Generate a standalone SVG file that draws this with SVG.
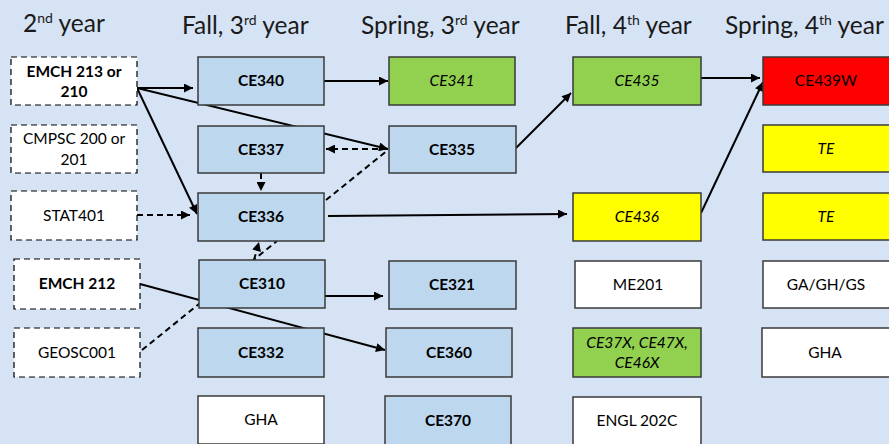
<svg xmlns="http://www.w3.org/2000/svg" width="889" height="444" viewBox="0 0 889 444">
<defs>
<style>
.hdr{font-family:Lato,"Liberation Sans",sans-serif;font-size:24.5px;fill:#1a1a1a}
.sup{font-size:14px}
.t{font-family:Lato,"Liberation Sans",sans-serif;font-size:15.5px;fill:#000;text-anchor:middle}
.b{font-weight:bold}
.i{font-style:italic}
.dash{fill:#fff;stroke:#000;stroke-width:1.2;stroke-dasharray:6,4}
.blue{fill:#BDD7EE;stroke:#3a3a3a;stroke-width:1.5}
.green{fill:#92D050;stroke:#3a3a3a;stroke-width:1.5}
.yellow{fill:#FFFF00;stroke:#3a3a3a;stroke-width:1.5}
.red{fill:#FF0000;stroke:#3a3a3a;stroke-width:1.5}
.white{fill:#fff;stroke:#3a3a3a;stroke-width:1.5}
.c{fill:none;stroke:#000;stroke-width:2}
.cd{fill:none;stroke:#000;stroke-width:2;stroke-dasharray:6,4}
</style>
<marker id="ah" viewBox="0 0 10 10" refX="10" refY="5" markerWidth="10" markerHeight="9" markerUnits="userSpaceOnUse" orient="auto">
<path d="M0,0 L10,5 L0,10 z" fill="#000"/>
</marker>
</defs>
<rect x="0" y="0" width="889" height="444" fill="#D5E3F4"/>

<g id="headers">
<text class="hdr" x="23" y="32">2<tspan class="sup" dy="-9">nd</tspan><tspan dy="9"> year</tspan></text>
<text class="hdr" x="182" y="34">Fall, 3<tspan class="sup" dy="-9">rd</tspan><tspan dy="9"> year</tspan></text>
<text class="hdr" x="361" y="34">Spring, 3<tspan class="sup" dy="-9">rd</tspan><tspan dy="9"> year</tspan></text>
<text class="hdr" x="565" y="34">Fall, 4<tspan class="sup" dy="-9">th</tspan><tspan dy="9"> year</tspan></text>
<text class="hdr" x="725" y="34">Spring, 4<tspan class="sup" dy="-9">th</tspan><tspan dy="9"> year</tspan></text>
</g>

<g id="connectors">
<line class="c" x1="137" y1="88" x2="193" y2="88" marker-end="url(#ah)"/>
<line class="c" x1="137" y1="88" x2="388" y2="149" marker-end="url(#ah)"/>
<line class="c" x1="137" y1="88" x2="197" y2="214" marker-end="url(#ah)"/>
<line class="c" x1="324" y1="81" x2="388" y2="81" marker-end="url(#ah)"/>
<line class="cd" x1="388" y1="149" x2="326" y2="149" marker-end="url(#ah)"/>
<line class="cd" x1="261" y1="173" x2="261" y2="191" marker-end="url(#ah)"/>
<line class="cd" x1="326" y1="200" x2="388" y2="150"/>
<line class="cd" x1="137" y1="215" x2="190" y2="215" marker-end="url(#ah)"/>
<line class="c" x1="328" y1="216" x2="567" y2="214" marker-end="url(#ah)"/>
<line class="c" x1="516" y1="148" x2="571" y2="93" marker-end="url(#ah)"/>
<line class="c" x1="701" y1="213" x2="763" y2="82" marker-end="url(#ah)"/>
<line class="c" x1="701" y1="78" x2="760" y2="78" marker-end="url(#ah)"/>
<line class="cd" x1="142" y1="350" x2="277" y2="241"/>
<line class="cd" x1="254" y1="260" x2="259" y2="242" marker-end="url(#ah)"/>
<line class="c" x1="140" y1="284" x2="385" y2="350" marker-end="url(#ah)"/>
<line class="c" x1="325" y1="296" x2="383" y2="296" marker-end="url(#ah)"/>
</g>

<g id="emch213"><rect class="dash" x="11" y="57" width="126" height="48"/><text class="t b" x="74" y="77">EMCH 213 or</text><text class="t b" x="74" y="97">210</text></g>
<g id="cmpsc"><rect class="dash" x="11" y="125" width="126" height="48"/><text class="t" x="74" y="144">CMPSC 200 or</text><text class="t" x="74" y="165">201</text></g>
<g id="stat401"><rect class="dash" x="11" y="191" width="126" height="49"/><text class="t" x="74" y="221">STAT401</text></g>
<g id="emch212"><rect class="dash" x="14" y="259" width="126" height="50"/><text class="t b" x="77" y="289">EMCH 212</text></g>
<g id="geosc001"><rect class="dash" x="14" y="328" width="126" height="49"/><text class="t" x="77" y="358">GEOSC001</text></g>

<g id="ce340"><rect class="blue" x="198" y="57" width="126" height="48"/><text class="t b" x="261" y="86">CE340</text></g>
<g id="ce337"><rect class="blue" x="198" y="126" width="126" height="47"/><text class="t b" x="261" y="155">CE337</text></g>
<g id="ce336"><rect class="blue" x="198" y="193" width="126" height="48"/><text class="t b" x="261" y="222">CE336</text></g>
<g id="ce310"><rect class="blue" x="199" y="260" width="126" height="48" stroke="#222" stroke-width="2"/><text class="t b" x="262" y="289">CE310</text></g>
<g id="ce332"><rect class="blue" x="198" y="328" width="126" height="49"/><text class="t b" x="261" y="358">CE332</text></g>
<g id="gha3"><rect class="white" x="198" y="396" width="126" height="48"/><text class="t" x="261" y="425">GHA</text></g>

<g id="ce341"><rect class="green" x="389" y="57" width="126" height="48"/><text class="t i" x="452" y="86">CE341</text></g>
<g id="ce335"><rect class="blue" x="389" y="126" width="127" height="47"/><text class="t b" x="452" y="155">CE335</text></g>
<g id="ce321"><rect class="blue" x="389" y="261" width="127" height="48"/><text class="t b" x="452" y="290">CE321</text></g>
<g id="ce360"><rect class="blue" x="386" y="328" width="126" height="49"/><text class="t b" x="449" y="358">CE360</text></g>
<g id="ce370"><rect class="blue" x="385" y="396" width="126" height="50"/><text class="t b" x="448" y="426">CE370</text></g>

<g id="ce435"><rect class="green" x="573" y="57" width="128" height="48"/><text class="t i" x="637" y="86">CE435</text></g>
<g id="ce436"><rect class="yellow" x="573" y="193" width="128" height="48"/><text class="t i" x="637" y="222">CE436</text></g>
<g id="me201"><rect class="white" x="575" y="261" width="126" height="47"/><text class="t" x="638" y="290">ME201</text></g>
<g id="ce37x"><rect class="green" x="573" y="328" width="128" height="49"/><text class="t i" x="637" y="348">CE37X, CE47X,</text><text class="t i" x="637" y="368">CE46X</text></g>
<g id="engl202c"><rect class="white" x="573" y="397" width="128" height="50"/><text class="t" x="637" y="426">ENGL 202C</text></g>

<g id="ce439w"><rect class="red" x="763" y="57" width="130" height="48"/><text class="t" x="826" y="86">CE439W</text></g>
<g id="te1"><rect class="yellow" x="763" y="125" width="130" height="47"/><text class="t i" x="826" y="154">TE</text></g>
<g id="te2"><rect class="yellow" x="763" y="193" width="130" height="47"/><text class="t i" x="826" y="222">TE</text></g>
<g id="gagh"><rect class="white" x="763" y="261" width="130" height="47"/><text class="t" x="826" y="290">GA/GH/GS</text></g>
<g id="gha4"><rect class="white" x="762" y="328" width="131" height="49"/><text class="t" x="825" y="358">GHA</text></g>
</svg>
